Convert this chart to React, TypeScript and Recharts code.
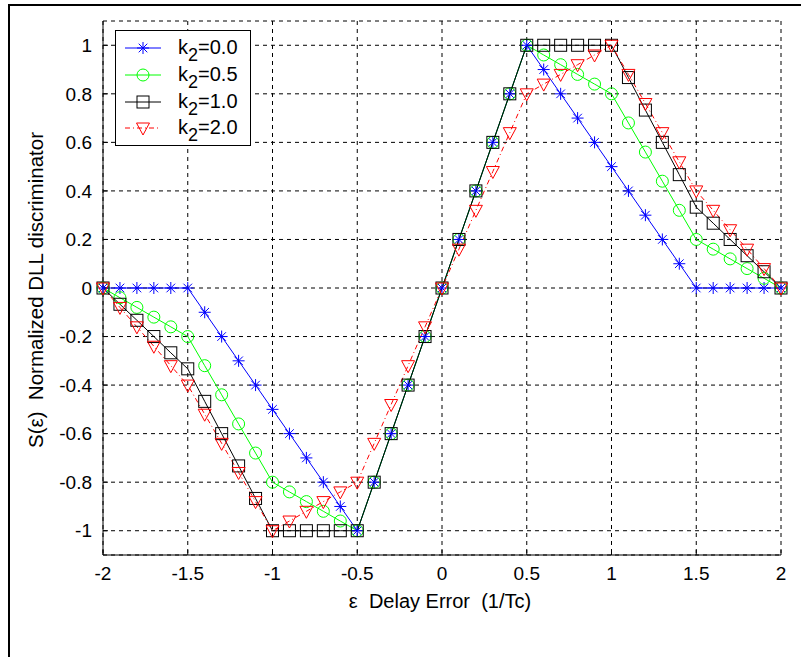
import React from "react";
import { LineChart, Line, XAxis, YAxis, CartesianGrid } from "recharts";

const xValues = [
  -2.0, -1.9, -1.8, -1.7, -1.6, -1.5, -1.4, -1.3, -1.2, -1.1, -1.0, -0.9, -0.8, -0.7,
  -0.6, -0.5, -0.4, -0.3, -0.2, -0.1, 0.0, 0.1, 0.2, 0.3, 0.4, 0.5, 0.6, 0.7, 0.8, 0.9,
  1.0, 1.1, 1.2, 1.3, 1.4, 1.5, 1.6, 1.7, 1.8, 1.9, 2.0,
];

// k2 = 0.0
const k2_00 = [
  0, 0, 0, 0, 0, 0, -0.1, -0.2, -0.3, -0.4, -0.5, -0.6, -0.7, -0.8,
  -0.9, -1, -0.8, -0.6, -0.4, -0.2, 0, 0.2, 0.4, 0.6, 0.8, 1, 0.9, 0.8, 0.7, 0.6,
  0.5, 0.4, 0.3, 0.2, 0.1, 0, 0, 0, 0, 0, 0,
];

// k2 = 0.5
const k2_05 = [
  0, -0.04, -0.08, -0.12, -0.16, -0.2, -0.32, -0.44, -0.56, -0.68, -0.8, -0.84, -0.88, -0.92,
  -0.96, -1, -0.8, -0.6, -0.4, -0.2, 0, 0.2, 0.4, 0.6, 0.8, 1, 0.96, 0.92, 0.88, 0.84,
  0.8, 0.68, 0.56, 0.44, 0.32, 0.2, 0.16, 0.12, 0.08, 0.04, 0,
];

// k2 = 1.0
const k2_10 = [
  0, -0.067, -0.133, -0.2, -0.267, -0.333, -0.467, -0.6, -0.733, -0.867, -1, -1, -1, -1,
  -1, -1, -0.8, -0.6, -0.4, -0.2, 0, 0.2, 0.4, 0.6, 0.8, 1, 1, 1, 1, 1,
  1, 0.867, 0.733, 0.6, 0.467, 0.333, 0.267, 0.2, 0.133, 0.067, 0,
];

// k2 = 2.0
const k2_20 = [
  0, -0.08, -0.16, -0.24, -0.32, -0.4, -0.52, -0.64, -0.76, -0.88, -1, -0.96, -0.92, -0.88,
  -0.84, -0.8, -0.64, -0.48, -0.32, -0.16, 0, 0.16, 0.32, 0.48, 0.64, 0.8, 0.84, 0.88, 0.92, 0.96,
  1, 0.88, 0.76, 0.64, 0.52, 0.4, 0.32, 0.24, 0.16, 0.08, 0,
];

const xTicks = [-2, -1.5, -1, -0.5, 0, 0.5, 1, 1.5, 2];
const yTicks = [-1, -0.8, -0.6, -0.4, -0.2, 0, 0.2, 0.4, 0.6, 0.8, 1];
const legendLabels = ["0.0", "0.5", "1.0", "2.0"];

const data = xValues.map((x, i) => ({
  x,
  k0: k2_00[i],
  k05: k2_05[i],
  k1: k2_10[i],
  k2: k2_20[i],
}));

const FONT = "'Liberation Sans', Arial, sans-serif";
const BLUE = "#0000ff";
const GREEN = "#00ff00";
const RED = "#ff0000";

const fmt = (v: number) => String(Math.round(v * 10) / 10);

function StarMark({ cx, cy }: any) {
  if (cx == null || cy == null) return null;
  const r = 6;
  const d = 4.3;
  return (
    <g stroke={BLUE} strokeWidth={1}>
      <line x1={cx - r} y1={cy} x2={cx + r} y2={cy} />
      <line x1={cx} y1={cy - r} x2={cx} y2={cy + r} />
      <line x1={cx - d} y1={cy - d} x2={cx + d} y2={cy + d} />
      <line x1={cx - d} y1={cy + d} x2={cx + d} y2={cy - d} />
    </g>
  );
}

function CircleMark({ cx, cy }: any) {
  if (cx == null || cy == null) return null;
  return <circle cx={cx} cy={cy} r={6} fill="none" stroke={GREEN} strokeWidth={1} />;
}

function SquareMark({ cx, cy }: any) {
  if (cx == null || cy == null) return null;
  return <rect x={cx - 6} y={cy - 6} width={12} height={12} fill="none" stroke="#000" strokeWidth={1} />;
}

function TriangleMark({ cx, cy }: any) {
  if (cx == null || cy == null) return null;
  return (
    <polygon
      points={`${cx - 6.5},${cy - 5} ${cx + 6.5},${cy - 5} ${cx},${cy + 7}`}
      fill="none"
      stroke={RED}
      strokeWidth={1}
    />
  );
}

const marks = [StarMark, CircleMark, SquareMark, TriangleMark];
const colors = [BLUE, GREEN, "#000", RED];

function LegendBox() {
  const rows = [17, 44, 71, 97];
  return (
    <div
      style={{
        position: "absolute",
        left: 115,
        top: 30,
        width: 134,
        height: 114,
        border: "1px solid #000",
        background: "#fff",
        fontFamily: FONT,
        fontSize: 20,
      }}
    >
      {legendLabels.map((lab, i) => {
        const Mark = marks[i];
        return (
          <div key={lab} style={{ position: "absolute", left: 0, top: rows[i] - 12, height: 24, width: 134 }}>
            <svg width={56} height={24} style={{ position: "absolute", left: 0, top: 0 }}>
              <line
                x1={9}
                y1={12}
                x2={45}
                y2={12}
                stroke={colors[i]}
                strokeWidth={1}
                strokeDasharray={i === 3 ? "5 3 1 3" : undefined}
              />
              <Mark cx={27} cy={12} />
            </svg>
            <span style={{ position: "absolute", left: 62, top: 0, lineHeight: "22px", whiteSpace: "nowrap" }}>
              k<span style={{ fontSize: 18, position: "relative", top: 7 }}>2</span>={lab}
            </span>
          </div>
        );
      })}
    </div>
  );
}

export default function App() {
  return (
    <div style={{ position: "absolute", left: 0, top: 0, width: 801, height: 657, background: "#fff", fontFamily: FONT }}>
      <LineChart width={801} height={657} data={data} margin={{ top: 21, right: 20, bottom: 72, left: 43 }}>
        <CartesianGrid stroke="#000" strokeDasharray="4 4" />
        <XAxis
          type="number"
          dataKey="x"
          domain={[-2, 2]}
          ticks={xTicks}
          interval={0}
          height={30}
          tickSize={-5}
          tickMargin={17}
          tickFormatter={fmt}
          axisLine={{ stroke: "#000" }}
          tickLine={{ stroke: "#000" }}
          tick={{ fill: "#000", fontSize: 19, fontFamily: FONT }}
        />
        <XAxis
          xAxisId="top"
          orientation="top"
          type="number"
          dataKey="x"
          domain={[-2, 2]}
          ticks={xTicks}
          interval={0}
          height={0}
          tickSize={-5}
          tick={false}
          axisLine={{ stroke: "#000" }}
          tickLine={{ stroke: "#000" }}
        />
        <YAxis
          type="number"
          domain={[-1.1, 1.1]}
          ticks={yTicks}
          interval={0}
          width={60}
          tickSize={-5}
          tickMargin={16}
          tickFormatter={fmt}
          axisLine={{ stroke: "#000" }}
          tickLine={{ stroke: "#000" }}
          tick={{ fill: "#000", fontSize: 19, fontFamily: FONT }}
        />
        <YAxis
          yAxisId="right"
          orientation="right"
          type="number"
          domain={[-1.1, 1.1]}
          ticks={yTicks}
          interval={0}
          width={0}
          tickSize={-5}
          tick={false}
          axisLine={{ stroke: "#000" }}
          tickLine={{ stroke: "#000" }}
        />
        <Line dataKey="k0" stroke={BLUE} strokeWidth={1} dot={(p: any) => <StarMark key={`a${p.index}`} {...p} />} isAnimationActive={false} />
        <Line dataKey="k05" stroke={GREEN} strokeWidth={1} dot={(p: any) => <CircleMark key={`b${p.index}`} {...p} />} isAnimationActive={false} />
        <Line dataKey="k1" stroke="#000" strokeWidth={1} dot={(p: any) => <SquareMark key={`c${p.index}`} {...p} />} isAnimationActive={false} />
        <Line
          dataKey="k2"
          stroke={RED}
          strokeWidth={1}
          strokeDasharray="5 3 1 3"
          dot={(p: any) => <TriangleMark key={`d${p.index}`} {...p} />}
          isAnimationActive={false}
        />
      </LineChart>

      <div style={{ position: "absolute", left: 8, top: 4, width: 793, height: 2, background: "#000" }} />
      <div style={{ position: "absolute", left: 8, top: 4, width: 2, height: 653, background: "#000" }} />

      <div
        style={{
          position: "absolute",
          left: 440,
          top: 601,
          transform: "translate(-50%, -50%)",
          whiteSpace: "pre",
          fontSize: 20,
        }}
      >
        {"ε  Delay Error  (1/Tc)"}
      </div>
      <div
        style={{
          position: "absolute",
          left: 36,
          top: 290,
          transform: "translate(-50%, -50%) rotate(-90deg)",
          whiteSpace: "pre",
          fontSize: 20.5,
        }}
      >
        {"S(ε)  Normalized DLL discriminator"}
      </div>

      <LegendBox />
    </div>
  );
}
